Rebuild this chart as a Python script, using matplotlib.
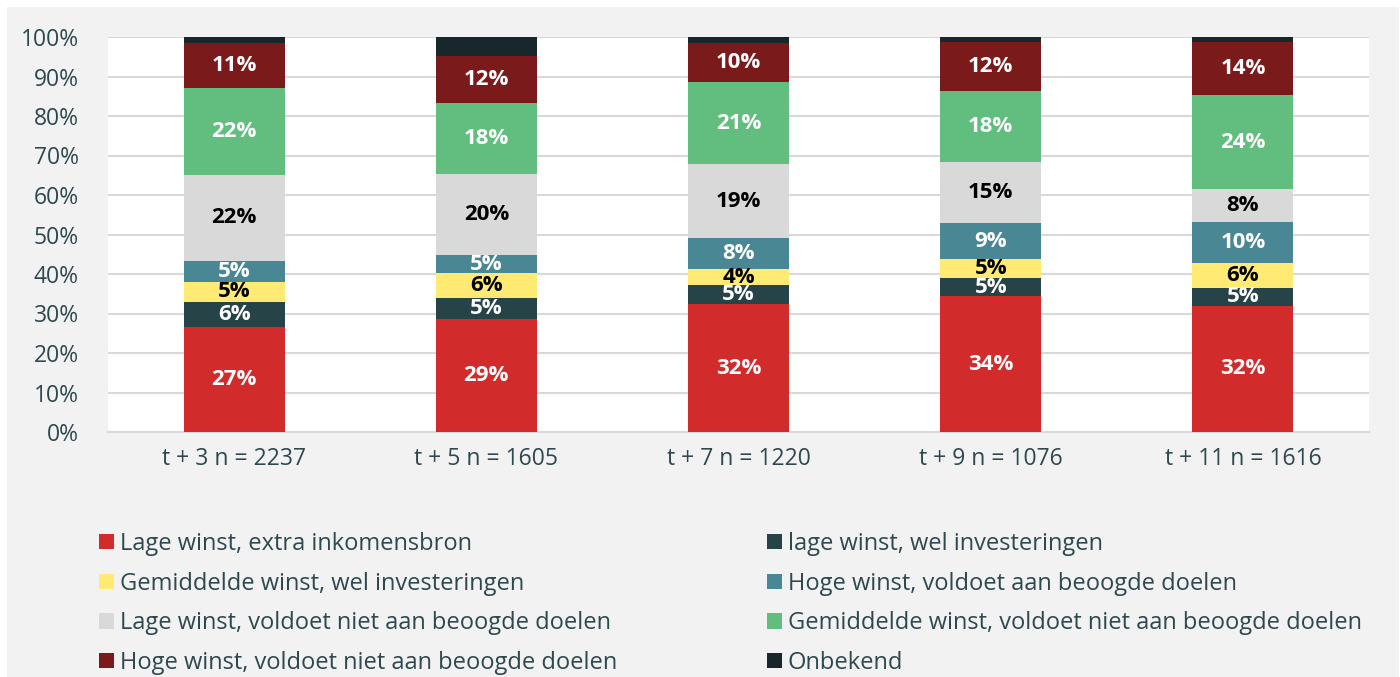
import matplotlib.pyplot as plt
from matplotlib.patches import Rectangle, Patch

plt.rcParams['font.family'] = ['Open Sans', 'DejaVu Sans']

categories = ['t + 3 n = 2237', 't + 5 n = 1605', 't + 7 n = 1220', 't + 9 n = 1076', 't + 11 n = 1616']

series_names = [
    'Lage winst, extra inkomensbron',
    'lage winst, wel investeringen',
    'Gemiddelde winst, wel investeringen',
    'Hoge winst, voldoet aan beoogde doelen',
    'Lage winst, voldoet niet aan beoogde doelen',
    'Gemiddelde winst, voldoet niet aan beoogde doelen',
    'Hoge winst, voldoet niet aan beoogde doelen',
    'Onbekend',
]

# percentages per series, one value per category
lage_extra = [26.6, 28.7, 32.4, 34.4, 31.9]
lage_invest = [6.3, 5.3, 4.7, 4.6, 4.6]
gem_invest = [5.1, 6.2, 4.1, 4.8, 6.3]
hoge_voldoet = [5.4, 4.6, 7.9, 9.1, 10.3]
lage_niet = [21.6, 20.4, 18.7, 15.4, 8.3]
gem_niet = [22.2, 18.0, 20.8, 18.0, 23.8]
hoge_niet = [11.2, 12.1, 9.9, 12.5, 13.6]
onbekend = [1.6, 4.7, 1.5, 1.2, 1.3]

series = [lage_extra, lage_invest, gem_invest, hoge_voldoet, lage_niet, gem_niet, hoge_niet, onbekend]
colors = ['#D22B2B', '#264348', '#FFEB73', '#4A8795', '#D9D9D9', '#62BE7E', '#7B1A1A', '#17272B']
text_colors = ['white', 'white', 'black', 'white', 'black', 'white', 'white', None]

txt_col = '#2E4850'

fig = plt.figure(figsize=(14, 6.77), dpi=100, facecolor='white')
fig.patches.append(Rectangle((7 / 1400, 0), 1392 / 1400, 670 / 677, transform=fig.transFigure,
                             facecolor='#F2F2F2', edgecolor='none', zorder=-10))

ax = fig.add_axes([108 / 1400, 1 - 432 / 677, 1261 / 1400, 395 / 677])
ax.set_facecolor('white')

x = range(len(categories))
bottom = [0] * len(categories)
for vals, col, tcol in zip(series, colors, text_colors):
    ax.bar(x, vals, width=0.4, bottom=bottom, color=col, zorder=3)
    if tcol is not None:
        for i, v in enumerate(vals):
            ax.text(i, bottom[i] + v / 2, f'{round(v)}%', ha='center', va='center',
                    color=tcol, fontsize=16, fontweight='bold', zorder=4)
    bottom = [b + v for b, v in zip(bottom, vals)]

ax.set_xlim(-0.5, 4.5)
ax.set_ylim(0, 100)
ax.set_yticks(range(0, 101, 10))
ax.set_yticklabels([f'{t}%' for t in range(0, 101, 10)])
ax.set_xticks(list(x))
ax.set_xticklabels(categories)
ax.tick_params(length=0, labelsize=16.5, labelcolor=txt_col)
ax.tick_params(axis='x', pad=11)
ax.tick_params(axis='y', pad=21)
ax.grid(axis='y', color='#D9D9D9', linewidth=1.5, zorder=0)
for s in ['top', 'right', 'left']:
    ax.spines[s].set_visible(False)
ax.spines['bottom'].set_color('#D9D9D9')
ax.spines['bottom'].set_linewidth(1.5)

handles = [Patch(facecolor=c, edgecolor='none') for c in colors]
leg_kw = dict(frameon=False, fontsize=17, labelcolor=txt_col, handlelength=0.62, handleheight=0.62,
              handletextpad=0.25, labelspacing=0.66, loc='upper left', borderaxespad=0, borderpad=0)
fig.legend(handles[0::2], series_names[0::2], bbox_to_anchor=(99 / 1400, 1 - 532 / 677), **leg_kw)
fig.legend(handles[1::2], series_names[1::2], bbox_to_anchor=(767 / 1400, 1 - 532 / 677), **leg_kw)

fig.savefig('out.png', dpi=100, facecolor=fig.get_facecolor())
